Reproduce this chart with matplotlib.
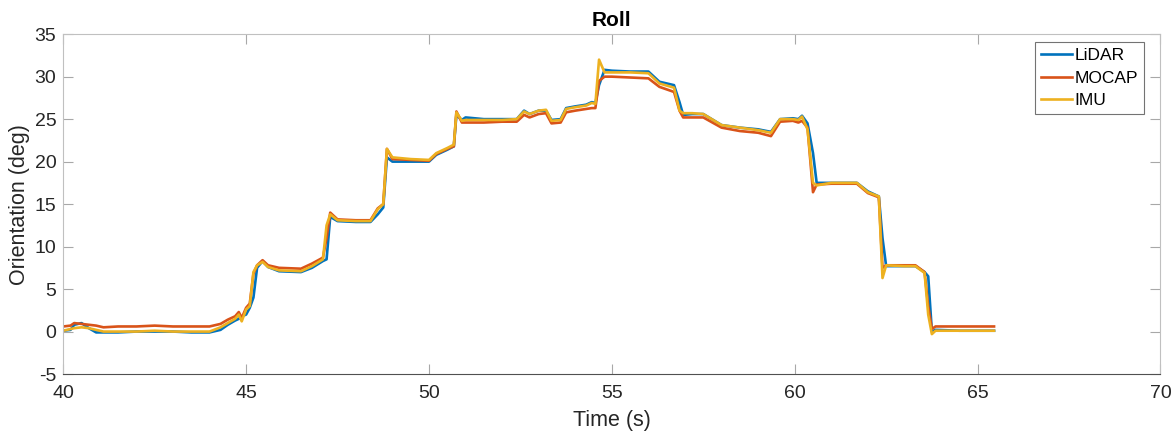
import matplotlib
matplotlib.use("Agg")
import numpy as np
import matplotlib.pyplot as plt

# time stamps (s) and roll angles (deg)
t = [40.0, 40.2, 40.3, 40.5, 40.7, 40.9, 41.1, 41.5, 42.0, 42.5, 43.0, 43.5, 44.0,
     44.3, 44.5, 44.7, 44.8, 44.88, 45.0, 45.1, 45.2, 45.3, 45.45, 45.6, 45.9, 46.5,
     46.8, 47.1, 47.2, 47.3, 47.5, 48.0, 48.4, 48.6, 48.75, 48.85, 49.0, 49.5, 50.0,
     50.2, 50.5, 50.68, 50.75, 50.9, 51.0, 51.5, 52.0, 52.4, 52.6, 52.75, 53.0, 53.2,
     53.35, 53.6, 53.75, 54.0, 54.3, 54.45, 54.55, 54.65, 54.8, 55.0, 55.5, 56.0,
     56.3, 56.7, 56.85, 56.95, 57.2, 57.5, 58.0, 58.5, 59.0, 59.35, 59.6, 59.95,
     60.1, 60.2, 60.35, 60.5, 60.6, 61.0, 61.7, 62.0, 62.3, 62.4, 62.5, 63.0, 63.3,
     63.55, 63.65, 63.75, 63.85, 64.5, 65.45]

lidar = [0.1, 0.2, 0.8, 1.0, 0.4, -0.1, -0.1, -0.1, 0.0, 0.0, 0.0, -0.1, -0.1,
         0.2, 0.8, 1.3, 1.5, 1.8, 2.0, 2.8, 4.0, 7.5, 8.3, 7.6, 7.1, 7.0,
         7.5, 8.3, 8.5, 13.5, 13.0, 12.9, 12.9, 13.8, 14.6, 20.5, 20.0, 20.0, 20.0,
         20.8, 21.4, 21.8, 25.5, 24.9, 25.2, 25.0, 25.0, 25.0, 26.0, 25.6, 26.0, 26.0,
         24.9, 25.0, 26.3, 26.5, 26.7, 27.0, 26.9, 29.0, 30.8, 30.7, 30.6, 30.6,
         29.4, 29.0, 27.0, 25.5, 25.6, 25.6, 24.3, 24.0, 23.8, 23.5, 25.0, 25.1,
         25.0, 25.4, 24.5, 21.0, 17.5, 17.5, 17.5, 16.5, 15.9, 11.0, 7.7, 7.7, 7.7,
         7.0, 6.5, 0.0, 0.2, 0.1, 0.1]

mocap = [0.6, 0.7, 1.0, 0.9, 0.8, 0.7, 0.5, 0.6, 0.6, 0.7, 0.6, 0.6, 0.6,
         0.9, 1.4, 1.8, 2.3, 1.6, 2.8, 3.3, 6.8, 7.8, 8.4, 7.8, 7.5, 7.4,
         8.0, 8.7, 11.0, 14.0, 13.2, 13.1, 13.1, 14.5, 15.0, 21.5, 20.3, 20.2, 20.1,
         20.9, 21.5, 21.8, 25.9, 24.6, 24.6, 24.6, 24.7, 24.7, 25.5, 25.2, 25.6, 25.7,
         24.5, 24.6, 25.8, 26.0, 26.2, 26.3, 26.3, 29.5, 30.0, 30.0, 29.9, 29.8,
         28.8, 28.2, 26.0, 25.2, 25.2, 25.2, 24.0, 23.6, 23.4, 23.0, 24.7, 24.8,
         24.6, 24.8, 24.0, 16.4, 17.3, 17.4, 17.4, 16.3, 15.8, 7.5, 7.8, 7.8, 7.8,
         7.0, 3.0, 0.3, 0.6, 0.6, 0.6]

imu = [0.1, 0.3, 0.4, 0.5, 0.4, 0.2, 0.0, 0.0, 0.0, 0.1, 0.0, 0.0, 0.0,
       0.5, 1.0, 1.5, 2.0, 1.2, 2.6, 3.0, 7.0, 7.8, 8.2, 7.6, 7.2, 7.1,
       7.7, 8.5, 12.5, 13.8, 13.1, 13.0, 13.0, 14.4, 15.0, 21.5, 20.5, 20.3, 20.2,
       21.0, 21.6, 22.0, 25.8, 24.8, 24.9, 24.9, 24.9, 25.0, 25.9, 25.6, 26.0, 26.1,
       24.8, 24.9, 26.2, 26.4, 26.6, 26.9, 26.8, 32.0, 30.5, 30.5, 30.5, 30.4,
       29.2, 28.7, 26.0, 25.7, 25.7, 25.6, 24.3, 24.0, 23.7, 23.4, 25.0, 25.0,
       24.9, 25.3, 23.8, 17.5, 17.2, 17.5, 17.5, 16.4, 15.9, 6.3, 7.8, 7.7, 7.7,
       6.9, 2.0, -0.3, 0.1, 0.1, 0.1]

plt.rcParams['font.family'] = ['Liberation Sans', 'DejaVu Sans']
plt.rcParams['axes.unicode_minus'] = False

fig = plt.figure(figsize=(11.71, 4.38), dpi=100)
ax = fig.add_axes([0.054, 0.146, 0.937, 0.776])

ax.plot(t, lidar, color='#0072BD', lw=1.9, label='LiDAR')
ax.plot(t, mocap, color='#D95319', lw=1.9, label='MOCAP')
ax.plot(t, imu, color='#EDB120', lw=1.9, label='IMU')

ax.set_xlim(40, 70)
ax.set_ylim(-5, 35)
ax.set_xticks(np.arange(40, 71, 5))
ax.set_yticks(np.arange(-5, 36, 5))
ax.tick_params(direction='in', length=7, width=0.8, color='#a8a8a8',
               labelsize=14, labelcolor='#262626', top=True, right=True)
ax.tick_params(axis='x', pad=8)
ax.tick_params(axis='y', pad=5)
for s in ax.spines.values():
    s.set_color('#c0c0c0')
    s.set_linewidth(0.8)
ax.spines['bottom'].set_color('#505050')

ax.set_xlabel('Time (s)', fontsize=15.5, color='#262626', labelpad=6)
ax.set_ylabel('Orientation (deg)', fontsize=15.5, color='#262626', labelpad=3)
ax.set_title('Roll', fontsize=15, fontweight='bold', color='black', pad=6)

leg = ax.legend(loc='upper right', fontsize=12.5, frameon=True, fancybox=False,
                edgecolor='#505050', handlelength=1.75, handletextpad=0.15,
                borderpad=0.35, labelspacing=0.42, borderaxespad=0.45,
                bbox_to_anchor=(0.992, 1.0))
leg.get_frame().set_linewidth(0.8)

fig.savefig('out.png', dpi=100)
